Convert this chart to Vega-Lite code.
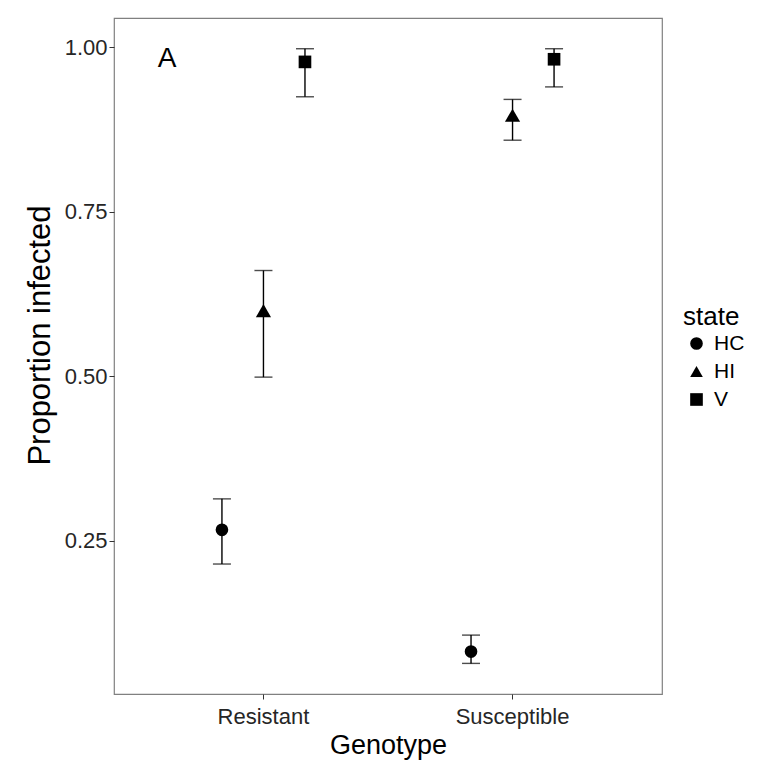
{
  "$schema": "https://vega.github.io/schema/vega-lite/v6.json",
  "width": 548,
  "height": 676,
  "autosize": {"type": "none"},
  "padding": {"left": 114, "top": 18, "right": 105, "bottom": 75},
  "background": "white",
  "config": {
    "font": "Liberation Sans",
    "view": {"stroke": "#808080", "strokeWidth": 1.2},
    "axis": {"grid": false, "domain": false, "tickColor": "#333333", "tickSize": 5, "labelColor": "#262626", "titleColor": "black", "titleFontWeight": "normal"}
  },
  "data": {
    "values": [
      {"Genotype": "Resistant", "state": "HC", "prop": 0.267, "lo": 0.215, "hi": 0.314},
      {"Genotype": "Resistant", "state": "HI", "prop": 0.600, "lo": 0.499, "hi": 0.661},
      {"Genotype": "Resistant", "state": "V", "prop": 0.978, "lo": 0.925, "hi": 0.998},
      {"Genotype": "Susceptible", "state": "HC", "prop": 0.082, "lo": 0.064, "hi": 0.107},
      {"Genotype": "Susceptible", "state": "HI", "prop": 0.897, "lo": 0.859, "hi": 0.921},
      {"Genotype": "Susceptible", "state": "V", "prop": 0.982, "lo": 0.940, "hi": 0.998}
    ]
  },
  "encoding": {
    "x": {
      "field": "Genotype", "type": "nominal",
      "scale": {"paddingInner": 0.5, "paddingOuter": 0.35},
      "axis": {"title": "Genotype", "labelAngle": 0, "labelFontSize": 22, "titleFontSize": 27, "labelPadding": 7, "titlePadding": 5}
    },
    "xOffset": {"field": "state", "type": "nominal", "scale": {"domain": ["HC", "HI", "V"], "paddingInner": 0, "paddingOuter": 0}}
  },
  "layer": [
    {
      "mark": {"type": "rule", "color": "black", "strokeWidth": 1.4},
      "encoding": {
        "y": {"field": "lo", "type": "quantitative", "scale": {"domain": [0.0175, 1.0447], "nice": false, "zero": false},
          "axis": {"title": "Proportion infected", "values": [0.25, 0.5, 0.75, 1.0], "format": ".2f", "labelFontSize": 22, "titleFontSize": 31, "labelPadding": 2, "titleX": -74, "titleY": 317, "titleBaseline": "middle", "titleAlign": "center"}},
        "y2": {"field": "hi"}
      }
    },
    {
      "mark": {"type": "tick", "color": "black", "size": 18, "thickness": 1.4, "orient": "horizontal"},
      "encoding": {"y": {"field": "lo", "type": "quantitative"}}
    },
    {
      "mark": {"type": "tick", "color": "black", "size": 18, "thickness": 1.4, "orient": "horizontal"},
      "encoding": {"y": {"field": "hi", "type": "quantitative"}}
    },
    {
      "mark": {"type": "point", "filled": true, "color": "black", "opacity": 1},
      "encoding": {
        "y": {"field": "prop", "type": "quantitative"},
        "size": {"condition": {"test": "datum.state === 'HI'", "value": 230}, "value": 160},
        "shape": {"field": "state", "type": "nominal",
          "scale": {"domain": ["HC", "HI", "V"], "range": ["circle", "triangle-up", "square"]},
          "legend": {"title": "state", "orient": "none", "legendX": 569, "legendY": 286, "titleFontSize": 26, "titleFontWeight": "normal", "titleColor": "black", "titlePadding": 3, "labelFontSize": 21, "labelColor": "black", "symbolSize": 160, "symbolFillColor": "black", "symbolStrokeWidth": 0, "symbolOffset": 3, "labelOffset": 7, "rowPadding": 6}}
      }
    },
    {
      "data": {"values": [{"Genotype": "Resistant", "label": "A", "yv": 0.983}]},
      "mark": {"type": "text", "fontSize": 28, "color": "black", "dx": -34, "baseline": "middle", "align": "center"},
      "encoding": {
        "xOffset": {"value": 0},
        "y": {"field": "yv", "type": "quantitative"},
        "text": {"field": "label"}
      }
    }
  ]
}
